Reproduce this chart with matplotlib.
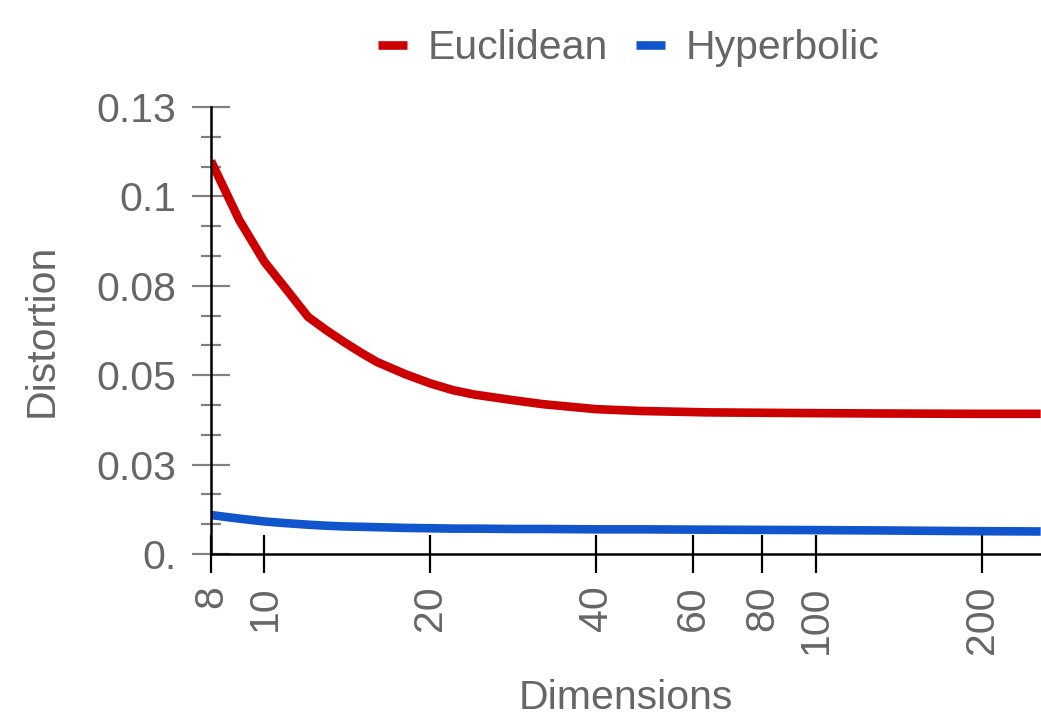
import matplotlib.pyplot as plt
from matplotlib.ticker import FixedLocator, NullFormatter

plt.rcParams['font.family'] = ['Liberation Sans', 'DejaVu Sans']

# Datos
dims = [8, 9, 10, 11, 12, 13, 14, 15, 16, 18, 20, 22, 24, 28, 32, 40, 48, 64,
        96, 128, 192, 256]
euclidean = [0.1099, 0.0934, 0.0817, 0.0737, 0.0663, 0.0624, 0.0591, 0.0562,
             0.0537, 0.0503, 0.0477, 0.0458, 0.0446, 0.0431, 0.0419, 0.0405,
             0.0400, 0.0396, 0.0394, 0.0393, 0.0392, 0.0392]
hyperbolic = [0.0109, 0.0099, 0.0091, 0.0086, 0.0082, 0.0079, 0.0077, 0.0076,
              0.0075, 0.0073, 0.0072, 0.0071, 0.0071, 0.0070, 0.0070, 0.0069,
              0.0069, 0.0068, 0.0067, 0.0066, 0.0064, 0.0063]

x_ticks = [8, 10, 20, 40, 60, 80, 100, 200]
y_ticks = [0, 0.025, 0.05, 0.075, 0.1, 0.125]
y_labels = ["0.", "0.03", "0.05", "0.08", "0.1", "0.13"]
y_minor = [0.025 / 3 * i for i in range(16) if i % 3 != 0]

gray = '#666666'
fs = 29.5

fig = plt.figure(figsize=(10.41, 7.18), dpi=100)
ax = fig.add_axes([0.2027, 0.2284, 0.797, 0.6226])

ax.plot(dims, euclidean, color='#cc0000', lw=6.2, label='Euclidean', solid_capstyle='butt')
ax.plot(dims, hyperbolic, color='#1155cc', lw=6.2, label='Hyperbolic', solid_capstyle='butt')

ax.set_xscale('log')
ax.set_xlim(8, 256)
ax.set_ylim(0, 0.125)

ax.xaxis.set_major_locator(FixedLocator(x_ticks))
ax.set_xticklabels([str(t) for t in x_ticks], rotation=90)
ax.xaxis.set_minor_locator(FixedLocator([]))
ax.xaxis.set_minor_formatter(NullFormatter())

ax.yaxis.set_major_locator(FixedLocator(y_ticks))
ax.set_yticklabels(y_labels)
ax.yaxis.set_minor_locator(FixedLocator(y_minor))

ax.tick_params(axis='x', which='major', direction='inout', length=28, width=1.6,
               color='black', pad=8.5, labelsize=fs, labelcolor=gray)
ax.tick_params(axis='y', which='major', direction='inout', length=28, width=1.6,
               color='#808080', pad=11, labelsize=fs, labelcolor=gray)
ax.tick_params(axis='y', which='minor', direction='inout', length=14, width=1.6,
               color='#808080')

for s in ['top', 'right']:
    ax.spines[s].set_visible(False)
for s in ['left', 'bottom']:
    ax.spines[s].set_linewidth(1.8)
    ax.spines[s].set_color('black')

ax.set_xlabel("Dimensions", fontsize=fs, color=gray, labelpad=18)
ax.set_ylabel("Distortion", fontsize=fs, color=gray, labelpad=26)

fig.legend(loc='center', bbox_to_anchor=(0.604, 0.933), ncol=2, frameon=False,
           fontsize=fs, labelcolor=gray, handlelength=0.7, handletextpad=0.5,
           columnspacing=0.7)

fig.savefig("out.png", dpi=100)
